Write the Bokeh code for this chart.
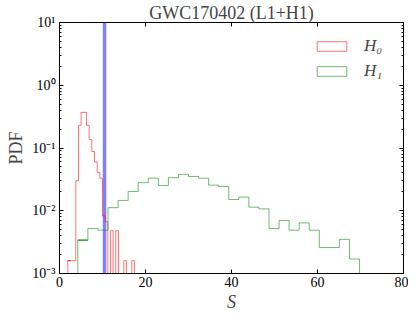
from bokeh.plotting import figure
from bokeh.models import (Range1d, LinearAxis, LogAxis, FixedTicker, CustomJSTickFormatter,
                          Span, Legend, LegendItem)
from bokeh.embed import file_html
from bokeh.resources import INLINE

# ---- data ----
title_text = "GWC170402 (L1+H1)"
h0_edges = [1.93, 2.55, 3.17, 3.79, 4.41, 5.03, 5.65, 6.27, 6.89, 7.51, 8.13, 8.75, 9.37,
            9.99, 10.61, 11.23, 11.85, 12.47, 13.09, 13.71, 14.33, 14.95, 15.57, 16.19,
            16.81, 17.43]
h0_pdf = [0.0016, 0.0016, 0.0016, 0.030, 0.23, 0.37, 0.37, 0.23, 0.136, 0.088, 0.060,
          0.041, 0.033, 0.0083, 0.0067, 0.0, 0.0048, 0.0, 0.0048, 0.0, 0.0, 0.0016, 0.0,
          0.0, 0.0016]
h1_edges = [4.26, 6.60, 8.94, 11.28, 13.62, 15.96, 18.30, 20.64, 22.98, 25.32, 27.66,
            30.00, 32.34, 34.68, 37.02, 39.36, 41.70, 44.04, 46.38, 48.72, 51.06, 53.40,
            55.74, 58.08, 60.42, 62.76, 65.10, 67.44, 69.78]
h1_pdf = [0.0034, 0.0052, 0.0049, 0.0112, 0.0146, 0.0203, 0.028, 0.033, 0.0253, 0.0336,
          0.038, 0.0352, 0.0329, 0.0256, 0.0244, 0.0151, 0.0165, 0.0114, 0.0107, 0.0052,
          0.0070, 0.0049, 0.0064, 0.0049, 0.0026, 0.0026, 0.0035, 0.0017]
observed_S = 10.47
x_ticks = [0, 20, 40, 60, 80]
y_ticks = [1e-3, 1e-2, 1e-1, 1e0, 1e1]
labels = ["H\u2080", "H\u2081"]

FONT = "Liberation Serif"
RED = "#ff0000"
GREEN = "#008000"
FLOOR = 1e-5  # where empty bins are drawn on the log axis (below the visible range)


def step_path(edges, vals):
    xs = [edges[0]] + list(edges)
    ys = [FLOOR] + [v if v > 0 else FLOOR for v in vals] + [FLOOR]
    return xs, ys


p = figure(width=408, height=317, output_backend="svg", toolbar_location=None,
           x_range=Range1d(0, 80), y_range=Range1d(1e-3, 10), y_axis_type="log",
           min_border_left=59, min_border_right=5, min_border_top=14, min_border_bottom=44)
p.grid.visible = False
p.outline_line_color = "black"
p.outline_line_width = 1

p.title.text = title_text
p.title.text_font = FONT
p.title.text_font_size = "18px"
p.title.text_font_style = "normal"
p.title.align = "center"
p.title.standoff = 0

ytf = CustomJSTickFormatter(code="""
const sup = {'-':'\u207b','0':'\u2070','1':'\u00b9','2':'\u00b2','3':'\u00b3','4':'\u2074',
             '5':'\u2075','6':'\u2076','7':'\u2077','8':'\u2078','9':'\u2079'};
const e = Math.round(Math.log10(tick));
return '10' + String(e).split('').map(c => sup[c]).join('');
""")
y_minor = [m * 10.0 ** e for e in range(-3, 1) for m in range(2, 10)]


def style_axis(ax):
    ax.axis_line_color = "black"
    ax.major_tick_in = 4
    ax.major_tick_out = 0
    ax.minor_tick_in = 2
    ax.minor_tick_out = 0
    ax.major_label_text_font = FONT
    ax.major_label_text_font_size = "14px"
    ax.major_label_text_color = "black"
    ax.axis_label_text_font = FONT
    ax.axis_label_text_font_style = "normal"


xa = p.xaxis[0]
xa.ticker = FixedTicker(ticks=x_ticks, minor_ticks=[])
style_axis(xa)
xa.axis_label = "S"
xa.axis_label_text_font_style = "italic"
xa.axis_label_text_font_size = "18px"
xa.axis_label_standoff = 2
xa.major_label_standoff = 3

ya = p.yaxis[0]
ya.ticker = FixedTicker(ticks=y_ticks, minor_ticks=y_minor)
ya.formatter = ytf
style_axis(ya)
ya.axis_label = "PDF"
ya.axis_label_text_font_size = "18px"
ya.axis_label_standoff = 3
ya.major_label_standoff = 4

blank = CustomJSTickFormatter(code="return '';")
top = LinearAxis(ticker=FixedTicker(ticks=x_ticks, minor_ticks=[]), formatter=blank)
style_axis(top)
top.major_label_standoff = 0
top.major_label_text_font_size = "0px"
p.add_layout(top, "above")
right = LogAxis(ticker=FixedTicker(ticks=y_ticks, minor_ticks=y_minor), formatter=blank)
style_axis(right)
right.major_label_standoff = 0
right.major_label_text_font_size = "0px"
p.add_layout(right, "right")

p.add_layout(Span(location=observed_S, dimension="height", line_color="blue",
                  line_alpha=0.5, line_width=3.5, level="underlay"))

x0, y0 = step_path(h0_edges, h0_pdf)
x1, y1 = step_path(h1_edges, h1_pdf)
p.step(x0, y0, mode="after", line_color=RED, line_alpha=0.55, line_width=1)
p.step(x1, y1, mode="after", line_color=GREEN, line_alpha=0.55, line_width=1)

# legend proxies: a degenerate (zero-height) quad on the top of each histogram's first bin
q0 = p.quad(left=[h0_edges[0]], right=[h0_edges[1]], top=[h0_pdf[0]], bottom=[h0_pdf[0]],
            fill_alpha=0, line_color=RED, line_alpha=0.55)
q1 = p.quad(left=[h1_edges[0]], right=[h1_edges[1]], top=[h1_pdf[0]], bottom=[h1_pdf[0]],
            fill_alpha=0, line_color=GREEN, line_alpha=0.55)

legend = Legend(items=[LegendItem(label=labels[0], renderers=[q0]),
                       LegendItem(label=labels[1], renderers=[q1])],
                location=(254, 192), padding=0, margin=0, spacing=5,
                glyph_width=37, glyph_height=12, label_standoff=14,
                label_text_font=FONT, label_text_font_style="italic",
                label_text_font_size="17px", background_fill_alpha=0,
                border_line_color=None)
p.add_layout(legend, "center")

open("out.html", "w").write(file_html(p, INLINE))
